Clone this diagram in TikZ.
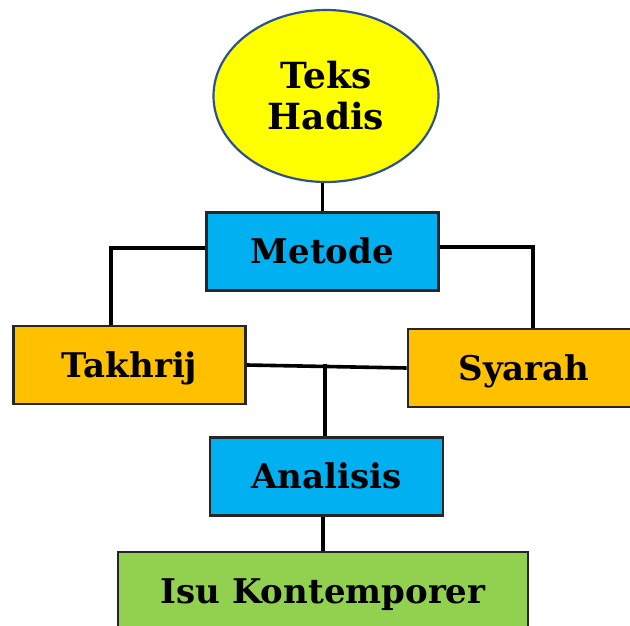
\documentclass[tikz,border=0pt]{standalone}
\usepackage{fontspec}
\setmainfont{DejaVu Serif}
\usetikzlibrary{shapes.geometric}
\definecolor{ellfill}{HTML}{FFFF00}
\definecolor{ellline}{HTML}{2F528F}
\definecolor{cyanbox}{HTML}{00B0F0}
\definecolor{orangebox}{HTML}{FFC000}
\definecolor{greenbox}{HTML}{92D050}
\tikzset{
  boxstyle/.style={draw=black!85, line width=2.7pt, inner sep=0pt,
    minimum width=232pt, minimum height=78pt,
    font=\fontsize{34}{40}\selectfont\bfseries, text height=24.5pt, text depth=0pt},
  linkstyle/.style={draw=black, line width=3.6pt}
}
\begin{document}
\begin{tikzpicture}[x=1pt,y=-1pt]
\clip (0,0) rectangle (630,625);
\fill[white] (0,0) rectangle (630,625);
\node[ellipse, draw=ellline, line width=2.2pt, fill=ellfill, inner sep=0pt,
  minimum width=225pt, minimum height=172pt, align=center,
  font=\fontsize{36}{41}\selectfont\bfseries] (teks) at (326,96) {Teks\\Hadis};
\node[boxstyle, fill=cyanbox] (metode) at (322.5,251.5) {Metode};
\node[boxstyle, fill=orangebox] (takhrij) at (129.5,365) {Takhrij};
\node[boxstyle, fill=orangebox] (syarah) at (524,368) {Syarah};
\node[boxstyle, fill=cyanbox, minimum width=233pt] (analisis) at (326.5,476.5) {Analisis};
\node[boxstyle, fill=greenbox, minimum width=410pt] (isu) at (323,591) {Isu Kontemporer};
\coordinate (lt) at (111,248);
\coordinate (rt) at (533,247);
\coordinate (jn) at (325,364);
\draw[linkstyle] (teks.south -| metode.north) -- (metode.north);
\draw[linkstyle] (lt -| metode.west) -- (lt) -- (lt |- takhrij.north);
\draw[linkstyle] (rt -| metode.east) -- (rt) -- (rt |- syarah.north);
\draw[linkstyle] (takhrij.east) -- (syarah.west);
\draw[linkstyle] (jn) -- (jn |- analisis.north);
\draw[linkstyle] (isu.north |- analisis.south) -- (isu.north);
\end{tikzpicture}
\end{document}
